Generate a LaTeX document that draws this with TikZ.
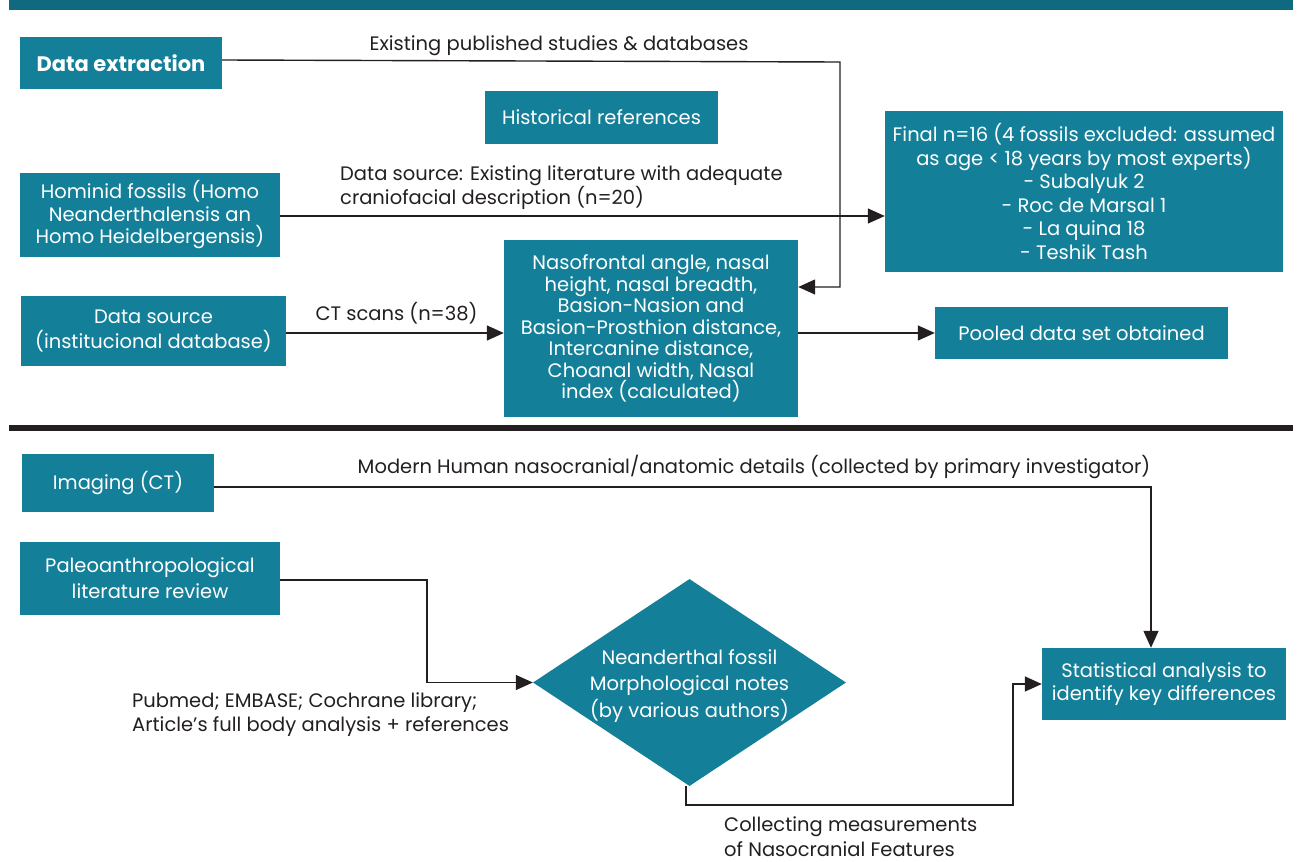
\documentclass[tikz,border=0pt]{standalone}
\usepackage{fontspec}
\setmainfont{Poppins}
\usetikzlibrary{shapes.geometric,arrows.meta}
\definecolor{boxc}{HTML}{137F98}
\definecolor{barc}{HTML}{0F6A80}
\definecolor{ink}{HTML}{231F20}
\tikzset{
  box/.style={fill=boxc, text=white, align=center, inner sep=2pt, font=\fontsize{19.5}{21.5}\selectfont},
  lbl/.style={text=ink, inner sep=0pt, font=\fontsize{19.5}{24.5}\selectfont},
  conn/.style={draw=ink, line width=1.4pt},
  arr/.style={conn, -{Triangle[length=17pt,width=15pt]}},
}
\begin{document}
\begin{tikzpicture}[x=1pt,y=-1pt]
\useasboundingbox (0,0) rectangle (1310,862);
\fill[barc] (9,0) rectangle (1293,10);
\fill[ink] (9,425) rectangle (1293,431);

% top section
\node[box, minimum width=202pt, minimum height=52pt, font=\fontsize{21}{22}\selectfont\bfseries] (de) at (121,63) {Data extraction};
\node[box, minimum width=233pt, minimum height=53pt] (hist) at (601.5,117.5) {Historical references};
\node[box, minimum width=398pt, minimum height=161pt, font=\fontsize{19.5}{23.6}\selectfont] (fin) at (1084,191.5) {Final n=16 (4 fossils excluded: assumed\\as age < 18 years by most experts)\\- Subalyuk 2\\- Roc de Marsal 1\\- La quina 18\\- Teshik Tash};
\node[box, minimum width=260pt, minimum height=84pt, font=\fontsize{19.5}{22.5}\selectfont] (hom) at (150,215) {Hominid fossils (Homo\\Neanderthalensis an\\Homo Heidelbergensis)};
\node[box, minimum width=265pt, minimum height=70pt, font=\fontsize{19.5}{25}\selectfont] (ds) at (153.5,331) {Data source\\(institucional database)};
\node[box, minimum width=294pt, minimum height=177pt] (naso) at (651,328.5) {Nasofrontal angle, nasal\\height, nasal breadth,\\Basion-Nasion and\\Basion-Prosthion distance,\\Intercanine distance,\\Choanal width, Nasal\\index (calculated)};
\node[box, minimum width=293pt, minimum height=52pt] (pool) at (1081.5,333) {Pooled data set obtained};

\node[lbl] (l1) at (559,46) {Existing published studies \& databases};
\node[lbl, anchor=west, align=left] (l2) at (340,187.5) {Data source: Existing literature with adequate\\craniofacial description (n=20)};
\node[lbl] (l3) at (396.5,313) {CT scans (n=38)};

\coordinate (c1) at (840,62);
\draw[arr] (de.east |- 0,60) -- (c1) |- (naso.east |- 0,287);
\draw[arr] (hom.east |- 0,216) -- (fin.west |- 0,216);
\draw[arr] (ds.east |- 0,333) -- (naso.west |- 0,333);
\draw[arr] (naso.east |- 0,333) -- (pool.west);

% bottom section
\node[box, minimum width=192pt, minimum height=58pt] (img) at (118,483) {Imaging (CT)};
\node[box, minimum width=260pt, minimum height=73pt, font=\fontsize{19.5}{26}\selectfont] (pal) at (150,578.5) {Paleoanthropological\\literature review};
\node[diamond, fill=boxc, inner sep=0pt, minimum width=313pt, minimum height=207pt, aspect=1.512] (dia) at (689.5,682.5) {};
\node[box, fill=none, font=\fontsize{19.5}{26.5}\selectfont] (diat) at (689.5,686) {Neanderthal fossil\\Morphological notes\\(by various authors)};
\node[box, minimum width=244pt, minimum height=72pt, font=\fontsize{19.5}{22.5}\selectfont] (stat) at (1164,684) {Statistical analysis to\\identify key differences};

\node[lbl] (l4) at (754,467) {Modern Human nasocranial/anatomic details (collected by primary investigator)};
\node[lbl, anchor=west, align=left] (l5) at (132,714.5) {Pubmed; EMBASE; Cochrane library;\\Article’s full body analysis + references};
\node[lbl, anchor=west, align=left] (l6) at (724,836.5) {Collecting measurements\\of Nasocranial Features};

\coordinate (c2) at (1151,487);
\draw[arr] (img.east |- 0,487) -- (c2) -- (stat.north -| c2);
\coordinate (c3) at (427,580);
\draw[arr] (pal.east |- 0,580) -- (c3) |- (dia.west);
\coordinate (c4) at (686,805);
\coordinate (c5) at (1013,805);
\draw[arr] (dia.south -| c4) -- (c4) -- (c5) |- (stat.west);
\end{tikzpicture}
\end{document}
